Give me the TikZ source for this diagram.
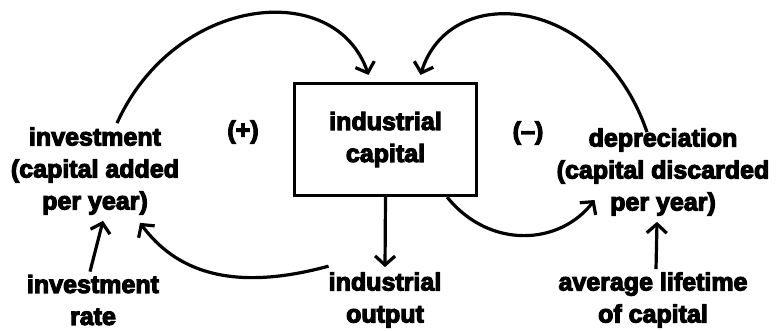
\documentclass[tikz,border=0pt]{standalone}
\usepackage{fontspec}
\newfontfamily\heavy{Liberation Sans Bold}[FakeBold=4.5]
\usetikzlibrary{arrows.meta}
\begin{document}
\begin{tikzpicture}[x=1pt,y=1pt,
  txt/.style={align=center,font=\fontsize{25}{32}\selectfont\heavy,inner sep=0pt},
  stockbox/.style={draw,line width=3.2pt,minimum width=182pt,minimum height=112pt,align=center,font=\fontsize{25}{32}\selectfont\heavy},
  arr/.style={line width=3.2pt,-{Straight Barb[length=9pt,width=20pt,line width=3.2pt]}}]
\useasboundingbox (0,0) rectangle (783,330);
\node[stockbox] (cap) at (385.5,190.5) {industrial\\capital};
\node[txt] (inv) at (95,159) {investment\\(capital added\\per year)};
\node[txt] (plus) at (243,198) {(+)};
\node[txt] (minus) at (528,197) {(–)};
\node[txt] (dep) at (663,158) {depreciation\\(capital discarded\\per year)};
\node[txt] (rate) at (93,30) {investment\\rate};
\node[txt] (out) at (385,30) {industrial\\output};
\node[txt] (life) at (653,30) {average lifetime\\of capital};
% loops
\draw[arr] ([xshift=22pt,yshift=4pt]inv.north) .. controls (175,335) and (335,352) .. ([xshift=-17pt,yshift=7pt]cap.north);
\draw[arr] ([xshift=-16pt,yshift=-4pt]dep.north) .. controls (600,335) and (450,350) .. ([xshift=35pt,yshift=7pt]cap.north);
\draw[arr] ([xshift=-31pt]cap.south east) .. controls (490,80) and (560,85) .. ([shift={(38pt,-28pt)}]dep.west);
\draw[arr] (cap.south) -- ([yshift=5pt]out.north);
\draw[arr] ([yshift=6pt]out.north west) .. controls (230,37) and (175,60) .. ([xshift=45pt,yshift=-8pt]inv.south);
\draw[arr] ([xshift=-3pt,yshift=3pt]rate.north) -- ([xshift=8pt,yshift=-6pt]inv.south);
\draw[arr] ([xshift=3pt,yshift=3pt]life.north) -- ([xshift=-6pt,yshift=-6pt]dep.south);
\end{tikzpicture}
\end{document}
